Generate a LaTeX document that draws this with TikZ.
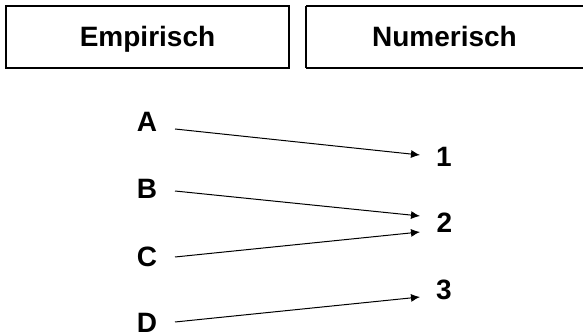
\documentclass[tikz,border=0pt]{standalone}
\usepackage{fontspec}
\setmainfont{Liberation Sans}
\usetikzlibrary{arrows.meta}
\begin{document}
\begin{tikzpicture}[x=1pt,y=-1pt,
  lbl/.style={inner sep=0pt,anchor=base,font=\fontsize{28}{33}\selectfont\bfseries},
  hdr/.style={draw,line width=1.4pt,inner sep=0pt},
  conn/.style={line width=1pt,-{Latex[length=9pt,width=8pt]}}]
\useasboundingbox (0,0) rectangle (583,336);
\draw[line width=1.4pt] (6,6) rectangle (289,68);
\draw[line width=1.4pt] (306,6) -- (588,6) (306,68) -- (588,68) (306,6) -- (306,68);
\node[lbl] (emp) at (147.5,47) {Empirisch};
\node[lbl] (num) at (444.5,47) {Numerisch};
\node[lbl] (A) at (147,132) {A};
\node[lbl] (B) at (147,199) {B};
\node[lbl] (C) at (147,267) {C};
\node[lbl] (D) at (147,332) {D};
\node[lbl] (n1) at (444,167) {1};
\node[lbl] (n2) at (444.5,233) {2};
\node[lbl] (n3) at (444,300) {3};
\draw[conn] ([shift={(28pt,3pt)}]A.base) -- ([shift={(-24pt,12pt)}]n1.base);
\draw[conn] ([shift={(28pt,8pt)}]B.base) -- ([shift={(-24.5pt,17pt)}]n2.base);
\draw[conn] ([shift={(28pt,10pt)}]C.base) -- ([shift={(-24.5pt,1pt)}]n2.base);
\draw[conn] ([shift={(28pt,10pt)}]D.base) -- ([shift={(-24pt,3pt)}]n3.base);
\end{tikzpicture}
\end{document}
